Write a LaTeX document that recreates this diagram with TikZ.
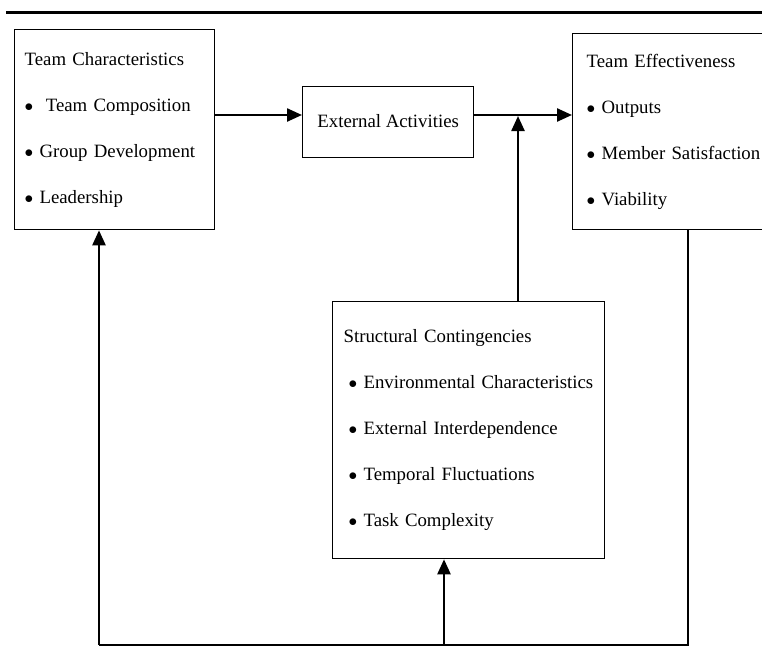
\documentclass[tikz,border=0pt]{standalone}
\usepackage{fontspec}
\setmainfont{Liberation Serif}
\usetikzlibrary{arrows.meta}
\newcommand{\itm}{$\bullet$\ }
\tikzset{
  box/.style={draw, line width=1.3pt, anchor=north west, inner ysep=0pt, align=left,
    font=\fontsize{18.8}{46}\selectfont},
  link/.style={line width=2.4pt},
  arr/.style={link, -{Triangle[length=15pt,width=13pt]}}
}
\begin{document}
\begin{tikzpicture}[x=1pt,y=-1pt]
  \useasboundingbox (0,0) rectangle (762,654);
  \draw[line width=3pt] (6,12) -- (762,12);
  \node[box, text width=180pt, inner xsep=10pt, minimum height=200pt] (tc) at (14,29)
    {Team Characteristics\\ \itm\ Team Composition\\ \itm Group Development\\ \itm Leadership};
  \node[box, minimum width=171pt, minimum height=71pt, align=center, text depth=2pt] (ea) at (302,86) {External Activities};
  \node[box, text width=180pt, inner xsep=14pt, minimum height=196pt] (te) at (572,33)
    {Team Effectiveness\\ \itm Outputs\\ \itm Member Satisfaction\\ \itm Viability};
  \node[box, text width=250pt, inner xsep=11pt, minimum height=257pt] (sc) at (332,301)
    {Structural Contingencies\\
     \hspace*{5pt}\itm Environmental Characteristics\\
     \hspace*{5pt}\itm External Interdependence\\
     \hspace*{5pt}\itm Temporal Fluctuations\\
     \hspace*{5pt}\itm Task Complexity};
  \coordinate (row) at (0,115);
  \coordinate (join) at (518,115);
  \coordinate (bl) at (99,645);
  \coordinate (bm) at (444,645);
  \coordinate (br) at (688,645);
  \draw[arr] (tc.east |- row) -- (ea.west |- row);
  \draw[arr] (ea.east |- row) -- (te.west |- row);
  \draw[arr, shorten >=1pt] (sc.north -| join) -- (join);
  \draw[link] (te.south -| br) -- (br) -- (bl);
  \draw[arr] (bl) -- (tc.south -| bl);
  \draw[arr] (bm) -- (sc.south -| bm);
\end{tikzpicture}
\end{document}
